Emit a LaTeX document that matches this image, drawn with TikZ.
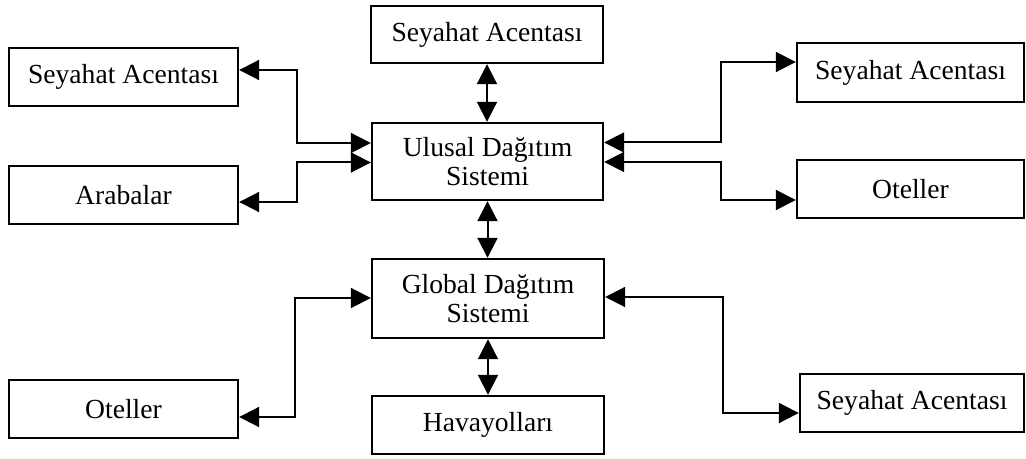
\documentclass[tikz,border=0pt]{standalone}
\usepackage{fontspec}
\setmainfont{Liberation Serif}
\usetikzlibrary{arrows.meta}
\begin{document}
\begin{tikzpicture}[x=0.5pt,y=-0.5pt,
  box/.style={draw, line width=1.2pt, inner sep=0pt, align=center,
    font=\fontsize{13.8}{14.5}\selectfont},
  dbl/.style={{Triangle[length=10pt,width=10pt]}-{Triangle[length=10pt,width=10pt]}, line width=1pt}]
\useasboundingbox (0,0) rectangle (1026,459);
% central column
\node[box, minimum width=116pt, minimum height=28.5pt] (top) at (487,34.5) {Seyahat Acentası};
\node[box, minimum width=115.5pt, minimum height=38.5pt] (ulusal) at (487.5,161.5) {Ulusal Dağıtım\\Sistemi};
\node[box, minimum width=116pt, minimum height=39.5pt] (global) at (488,298.5) {Global Dağıtım\\Sistemi};
\node[box, minimum width=116pt, minimum height=29pt] (hava) at (488,425) {Havayolları};
% left column
\node[box, minimum width=114.5pt, minimum height=29pt] (lsa) at (123.5,77) {Seyahat Acentası};
\node[box, minimum width=114.5pt, minimum height=29pt] (arab) at (123.5,195) {Arabalar};
\node[box, minimum width=114.5pt, minimum height=29pt] (lot) at (123.5,409) {Oteller};
% right column
\node[box, minimum width=113.5pt, minimum height=29.5pt] (rsa) at (910.5,72.5) {Seyahat Acentası};
\node[box, minimum width=113.5pt, minimum height=29pt] (rot) at (910.5,189) {Oteller};
\node[box, minimum width=112pt, minimum height=29pt] (rsa2) at (912,403) {Seyahat Acentası};
% vertical connectors
\draw[dbl] (top.south) -- (top.south |- ulusal.north);
\draw[dbl] (ulusal.south) -- (ulusal.south |- global.north);
\draw[dbl] (global.south) -- (global.south |- hava.north);
% left connectors
\draw[dbl] ([yshift=3.5pt]lsa.east) -- ++(58,0) |- ([yshift=9.25pt]ulusal.west);
\draw[dbl] ([yshift=-3.5pt]arab.east) -- ++(58,0) |- ([yshift=-0.5pt]ulusal.west);
\draw[dbl] ([yshift=0.25pt]global.west) -- ++(-76,0) |- ([yshift=-4pt]lot.east);
% right connectors
\draw[dbl] ([yshift=9.5pt]ulusal.east) -- ++(117,0) |- ([yshift=5.25pt]rsa.west);
\draw[dbl] ([yshift=-0.25pt]ulusal.east) -- ++(117,0) |- ([yshift=-5.5pt]rot.west);
\draw[dbl] ([yshift=0.75pt]global.east) -- ++(118,0) |- ([yshift=-5pt]rsa2.west);
\end{tikzpicture}
\end{document}
